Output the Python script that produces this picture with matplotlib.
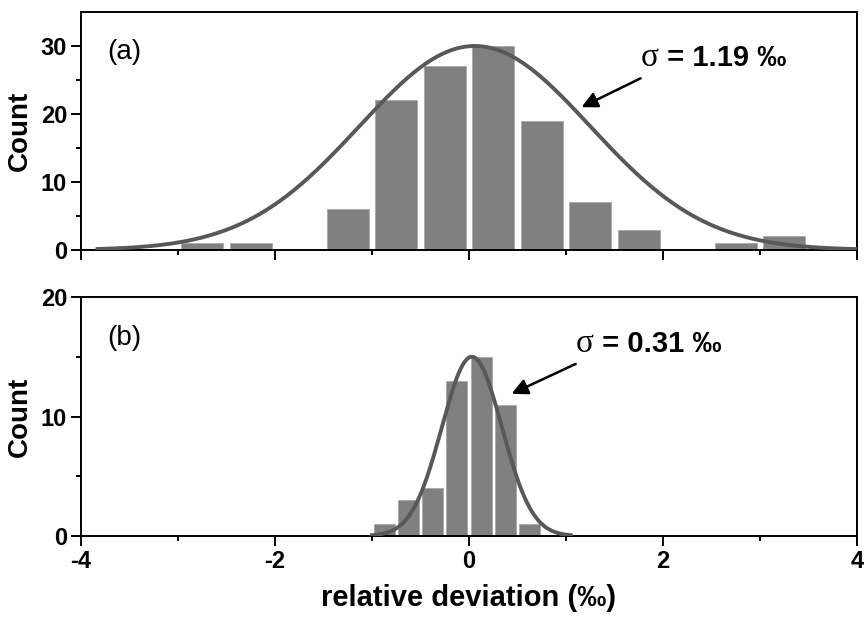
import matplotlib.pyplot as plt
import numpy as np

# histogram (a): bin edges and counts
edges_a = [-3.0, -2.5, -2.0, -1.5, -1.0, -0.5, 0.0, 0.5, 1.0, 1.5, 2.0, 2.5, 3.0, 3.5]
counts_a = [1, 1, 0, 6, 22, 27, 30, 19, 7, 3, 0, 1, 2]
# gaussian fit (a): amplitude, centre, sigma, drawn range
fit_a = (30.0, 0.06, 1.19)
range_a = (-3.83, 4.0)

# histogram (b)
edges_b = [-1.0, -0.75, -0.5, -0.25, 0.0, 0.25, 0.5, 0.75]
counts_b = [1, 3, 4, 13, 15, 11, 1]
fit_b = (15.0, 0.03, 0.31)
range_b = (-1.0, 1.05)

plt.rcParams['font.family'] = ['Liberation Sans', 'DejaVu Sans']
plt.rcParams['axes.unicode_minus'] = False

BAR = '#808080'
LINE = '#585858'

fig = plt.figure(figsize=(8.67, 6.18), dpi=100)
ax1 = fig.add_axes([0.0934, 0.5955, 0.895, 0.3851])
ax2 = fig.add_axes([0.0934, 0.1327, 0.895, 0.3867])
labels = []


def panel(ax, edges, counts, fit, xr, ymax, yticks, yminor, tag, label, arrow_xy, text_xy):
    edges = np.asarray(edges)
    w = edges[1] - edges[0]
    centers = edges[:-1] + w / 2
    ax.bar(centers, counts, width=0.86 * w, color=BAR, edgecolor='#a8a8a8',
           linewidth=0.6, zorder=2)
    amp, mu, sig = fit
    x = np.linspace(xr[0], xr[1], 400)
    ax.plot(x, amp * np.exp(-0.5 * ((x - mu) / sig) ** 2), color=LINE, lw=2.8, zorder=3)

    ax.set_xlim(-4, 4)
    ax.set_ylim(0, ymax)
    ax.set_xticks([-4, -2, 0, 2, 4])
    ax.set_xticks([-3, -1, 1, 3], minor=True)
    ax.set_yticks(yticks)
    ax.set_yticks(yminor, minor=True)
    ax.tick_params(which='major', direction='out', length=7, width=1.4, pad=3,
                   labelsize=17, top=False, right=False)
    ax.tick_params(which='minor', direction='out', length=3.5, width=1.4,
                   top=False, right=False)
    for lab in ax.get_xticklabels() + ax.get_yticklabels():
        lab.set_fontweight('bold')
    for s in ax.spines.values():
        s.set_linewidth(1.4)

    ax.set_ylabel('Count', fontsize=20, fontweight='bold')
    ax.yaxis.set_label_coords(-0.062, 0.5)

    ax.text(0.034, 0.83, tag, transform=ax.transAxes, fontsize=20, va='center', ha='left')

    t1 = ax.text(text_xy[0], text_xy[1], '\u03c3', family='Liberation Serif',
                 fontsize=24, va='baseline', ha='left')
    labels.append((ax, t1, label, text_xy[1]))
    ax.annotate('', xy=arrow_xy, xytext=(text_xy[0], text_xy[1] - ymax * 0.05),
                arrowprops=dict(arrowstyle='-|>', color='black', lw=1.8,
                                mutation_scale=24, shrinkA=0, shrinkB=0))


panel(ax1, edges_a, counts_a, fit_a, range_a, 35, [0, 10, 20, 30], [5, 15, 25],
      '(a)', ' = 1.19 \u2030', (1.16, 21.0), (1.77, 27.0))
panel(ax2, edges_b, counts_b, fit_b, range_b, 20, [0, 10, 20], [5, 15],
      '(b)', ' = 0.31 \u2030', (0.44, 11.9), (1.10, 15.4))

ax1.tick_params(labelbottom=False)
ax2.set_xlabel('relative deviation (\u2030)', fontsize=21, fontweight='bold', labelpad=8)

# put the bold part right after the sigma, on the same baseline
fig.canvas.draw()
for ax, t1, label, y in labels:
    bb = t1.get_window_extent()
    xr = ax.transData.inverted().transform((bb.x1, bb.y0))[0]
    ax.text(xr, y, label, fontsize=21, fontweight='bold', va='baseline', ha='left')

fig.savefig('out.png', dpi=100)
